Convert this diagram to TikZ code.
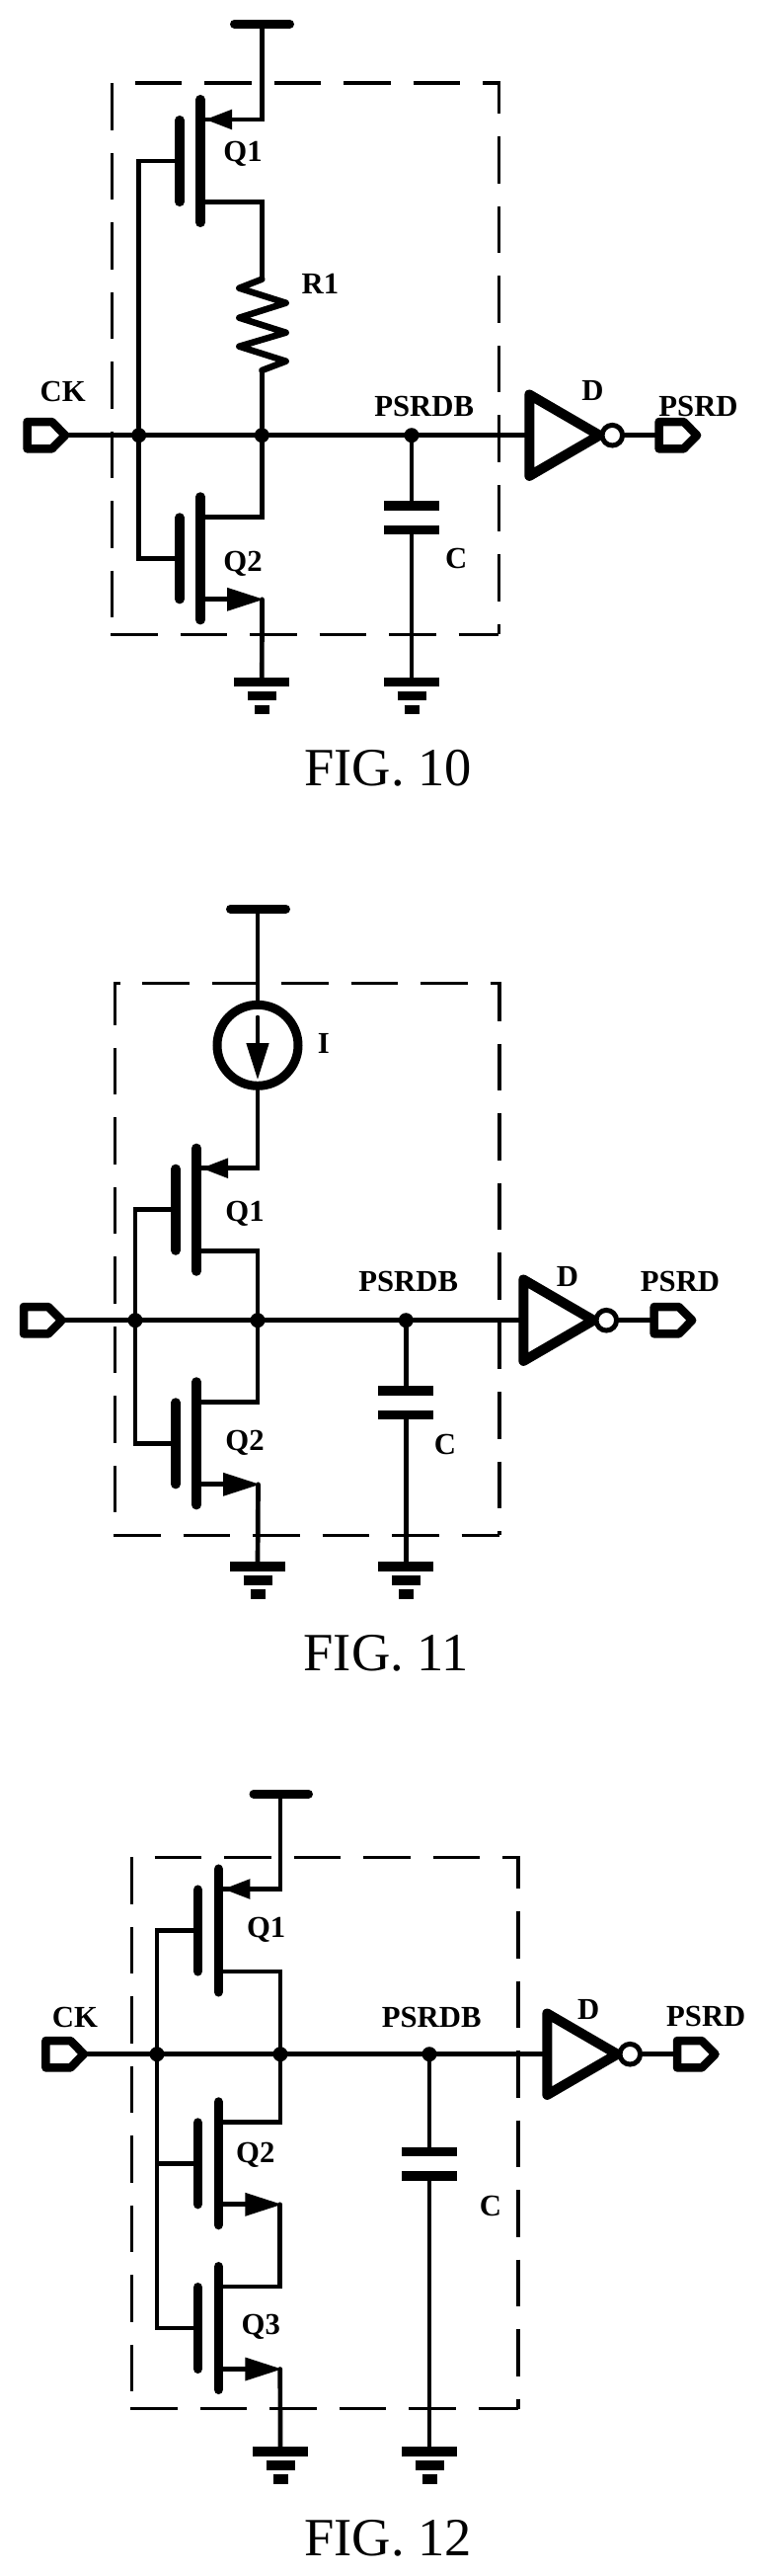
\documentclass[tikz,border=0pt]{standalone}
\usepackage{fontspec}
\setmainfont{Liberation Serif}
\tikzset{
  wire/.style={line width=4.7pt,line cap=round,line join=miter},
  boxdash/.style={line width=3.3pt,dash pattern=on 47.5pt off 23pt},
  rail/.style={line width=9pt,line cap=round},
  heavy/.style={line width=9.5pt,line cap=round},
  plate/.style={line width=9.5pt},
  resz/.style={line width=6.5pt,line join=round,line cap=round},
  invtri/.style={line width=10pt,line join=round,draw=black,fill=white},
  portbox/.style={line width=8.5pt,line join=round,draw=black,fill=white},
  dot/.style={circle,fill=black,inner sep=0pt,minimum size=15pt},
  isrc/.style={circle,draw,line width=9pt,inner sep=0pt,minimum size=82pt},
  lab/.style={inner sep=0pt,anchor=base,font=\fontsize{30.7}{30.7}\selectfont\bfseries},
  figlab/.style={inner sep=0pt,anchor=base,font=\fontsize{54.5}{54.5}\selectfont},
  pics/nmosq/.style={code={
    \draw[heavy] (0,-62.3) -- (0,62.3);
    \draw[heavy] (-21,-41.3) -- (-21,41.3);
    \coordinate (-g) at (-21,0);
    \coordinate (-d) at (0,-42);
    \coordinate (-s) at (0,41.5);
    \coordinate (-srail) at (62.5,41.5);
    \draw[wire] (0,41.5) -- (30,41.5);
    \fill (27,29.5) -- (64,41.5) -- (27,53.5) -- cycle;
  }},
  pics/pmosq/.style={code={
    \draw[heavy] (0,-62.3) -- (0,62.3);
    \draw[heavy] (-21,-41.3) -- (-21,41.3);
    \coordinate (-g) at (-21,0);
    \coordinate (-s) at (0,-42);
    \coordinate (-d) at (0,41.5);
    \fill (5.3,-42) -- (32,-52.3) -- (32,-31.7) -- cycle;
  }},
  pics/gndsym/.style={code={
    \coordinate (-top) at (0,0);
    \draw[plate] (-28,0) -- (28,0);
    \draw[plate] (-14.5,14) -- (14.5,14);
    \draw[plate] (-7.5,28) -- (7.5,28);
  }},
  pics/portsym/.style={code={
    \coordinate (-w) at (0,0);
    \coordinate (-e) at (38.5,0);
    \draw[portbox] (0,-13.7) -- (25,-13.7) -- (38.5,0) -- (25,13.7) -- (0,13.7) -- cycle;
  }},
  pics/invsym/.style={code={
    \coordinate (-in) at (0,0);
    \coordinate (-out) at (97,0);
    \draw[invtri] (0,-41.2) -- (71,0) -- (0,41.2) -- cycle;
    \draw[line width=5pt,fill=white] (84,0) circle (10.3);
  }},
  pics/capsym/.style={code={
    \coordinate (-a) at (0,0);
    \coordinate (-b) at (0,24.5);
    \draw[plate] (-28,0) -- (28,0);
    \draw[plate] (-28,24.5) -- (28,24.5);
  }}
}
\begin{document}
\begin{tikzpicture}[x=1pt,y=-1pt]
\useasboundingbox (0,0) rectangle (775,2608);

% ---------- FIG. 10
\coordinate (a1) at (113.3,84);
\coordinate (a2) at (136.7,84);
\coordinate (a3) at (505.3,84);
\coordinate (a4) at (505.3,642.3);
\coordinate (a5) at (113.3,642.3);
\coordinate (a6) at (112,642.3);
\draw[boxdash] (a1) -- (a5);
\draw[boxdash] (a6) -- (a4);
\draw[boxdash] (a2) -- (a3) -- (a4);

\coordinate (avdd) at (265.3,24.3);
\coordinate (avl) at (237.5,24.3);
\coordinate (avr) at (293.5,24.3);
\draw[rail] (avl) -- (avr);
\pic (aq1) at (203,163) {pmosq};
\pic (aq2) at (203,565.3) {nmosq};
\node[dot] (aj1) at (140.7,440.7) {};
\node[dot] (aj2) at (265.3,440.7) {};
\node[dot] (aj3) at (417,440.7) {};
\coordinate (art) at (265.3,282.7);
\coordinate (arb) at (265.3,375);
\draw[wire] (aq1-s) -| (avdd);
\draw[wire] (aq1-d) -| (art);
\draw[resz] (art) -- ++(-23,9) -- ++(47.4,15) -- ++(-47.4,15) -- ++(47.4,15) -- ++(-47.4,14) -- ++(47.4,15) -- (arb);
\draw[wire] (arb) -- (aj2);
\draw[wire] (aq1-g) -| (aj1);
\draw[wire] (aq2-g) -| (aj1);
\draw[wire] (aq2-d) -| (aj2);
\pic (ag1) at (265.3,690.3) {gndsym};
\pic (ag2) at (417,690.3) {gndsym};
\draw[wire] (aq2-srail) -- (ag1-top);
\pic (ac) at (417,512) {capsym};
\draw[wire] (aj3) -- (ac-a);
\draw[wire] (ac-b) -- (ag2-top);
\pic (api) at (27.6,440.7) {portsym};
\draw[wire] (api-e) -- (aj1);
\draw[wire] (aj1) -- (aj2);
\draw[wire] (aj2) -- (aj3);
\pic (ainv) at (536.3,440.7) {invsym};
\draw[wire] (aj3) -- (ainv-in);
\pic (apo) at (667.6,440.7) {portsym};
\draw[wire] (ainv-out) -- (apo-w);
\node[lab] (aq1l) at (246,163.3) {Q1};
\node[lab] (ar1l) at (324.4,297.3) {R1};
\node[lab] (ackl) at (63.7,406) {CK};
\node[lab] (apbl) at (429.7,421.7) {PSRDB};
\node[lab] (adl) at (600.5,405.7) {D};
\node[lab] (apl) at (707.5,421.7) {PSRD};
\node[lab] (aq2l) at (246,578.3) {Q2};
\node[lab] (acl) at (462.3,575) {C};
\node[figlab] (afig) at (393.3,795) {FIG. 10};

% ---------- FIG. 11
\coordinate (b1) at (122,995.7);
\coordinate (b2) at (144,995.7);
\coordinate (b3) at (506,995.7);
\coordinate (b4) at (506,1554.3);
\coordinate (b5) at (116.7,1554.3);
\coordinate (b6) at (115,1554.3);
\coordinate (b7) at (116.7,995.7);
\draw[boxdash] (b1) -- (b7) -- (b5);
\draw[boxdash] (b6) -- (b4);
\draw[boxdash] (b2) -- (b3) -- (b4);

\coordinate (bvdd) at (261,920.3);
\coordinate (bvl) at (233.5,920.3);
\coordinate (bvr) at (289.5,920.3);
\draw[rail] (bvl) -- (bvr);
\node[isrc] (bi) at (261,1058.3) {};
\coordinate (bis) at (261,1030);
\coordinate (bia) at (261,1058);
\draw[wire] (bvdd) -- (bi);
\draw[wire] (bis) -- (bia);
\fill (249.3,1056) -- (272.7,1056) -- (261,1092.7) -- cycle;
\pic (bq1) at (199,1224.7) {pmosq};
\pic (bq2) at (199,1461.3) {nmosq};
\node[dot] (bj1) at (137,1336.7) {};
\node[dot] (bj2) at (261,1336.7) {};
\node[dot] (bj3) at (411.3,1336.7) {};
\draw[wire] (bq1-s) -| (bi);
\draw[wire] (bq1-d) -| (bj2);
\draw[wire] (bq1-g) -| (bj1);
\draw[wire] (bq2-g) -| (bj1);
\draw[wire] (bq2-d) -| (bj2);
\pic (bg1) at (261,1586) {gndsym};
\pic (bg2) at (411.3,1586) {gndsym};
\draw[wire] (bq2-srail) -- (bg1-top);
\pic (bc) at (411.3,1408) {capsym};
\draw[wire] (bj3) -- (bc-a);
\draw[wire] (bc-b) -- (bg2-top);
\pic (bpi) at (24,1336.7) {portsym};
\draw[wire] (bpi-e) -- (bj1);
\draw[wire] (bj1) -- (bj2);
\draw[wire] (bj2) -- (bj3);
\pic (binv) at (530.3,1336.7) {invsym};
\draw[wire] (bj3) -- (binv-in);
\pic (bpo) at (662.7,1336.7) {portsym};
\draw[wire] (binv-out) -- (bpo-w);
\node[lab] (bil) at (327.8,1066) {I};
\node[lab] (bq1l) at (248,1236) {Q1};
\node[lab] (bpbl) at (413.7,1307.3) {PSRDB};
\node[lab] (bdl) at (575,1302) {D};
\node[lab] (bpl) at (689,1307.3) {PSRD};
\node[lab] (bq2l) at (248,1468.3) {Q2};
\node[lab] (bcl) at (451,1472.5) {C};
\node[figlab] (bfig) at (391.4,1691.7) {FIG. 11};

% ---------- FIG. 12
\coordinate (c1) at (133.3,1880.3);
\coordinate (c2) at (156.7,1880.3);
\coordinate (c3) at (525,1880.3);
\coordinate (c4) at (525,2438.7);
\coordinate (c5) at (133.3,2438.7);
\coordinate (c6) at (132,2438.7);
\draw[boxdash] (c1) -- (c5);
\draw[boxdash] (c6) -- (c4);
\draw[boxdash] (c2) -- (c3) -- (c4);

\coordinate (cvdd) at (284,1816.3);
\coordinate (cvl) at (257,1816.3);
\coordinate (cvr) at (312.5,1816.3);
\draw[rail] (cvl) -- (cvr);
\pic (cq1) at (221.3,1954.5) {pmosq};
\pic (cq2) at (221.3,2190.3) {nmosq};
\pic (cq3) at (221.3,2357) {nmosq};
\node[dot] (cj1) at (159,2079.7) {};
\node[dot] (cj2) at (284,2079.7) {};
\node[dot] (cj3) at (435,2079.7) {};
\draw[wire] (cq1-s) -| (cvdd);
\draw[wire] (cq1-d) -| (cj2);
\draw[wire] (cq1-g) -| (cj1);
\draw[wire] (cq2-g) -| (cj1);
\draw[wire] (cq3-g) -| (cj1);
\draw[wire] (cq2-d) -| (cj2);
\draw[wire] (cq3-d) -| (cq2-srail);
\pic (cg1) at (284,2482) {gndsym};
\pic (cg2) at (435,2482) {gndsym};
\draw[wire] (cq3-srail) -- (cg1-top);
\pic (cc) at (435,2178.3) {capsym};
\draw[wire] (cj3) -- (cc-a);
\draw[wire] (cc-b) -- (cg2-top);
\pic (cpi) at (46.4,2079.7) {portsym};
\draw[wire] (cpi-e) -- (cj1);
\draw[wire] (cj1) -- (cj2);
\draw[wire] (cj2) -- (cj3);
\pic (cinv) at (554.3,2079.7) {invsym};
\draw[wire] (cj3) -- (cinv-in);
\pic (cpo) at (686,2079.7) {portsym};
\draw[wire] (cinv-out) -- (cpo-w);
\node[lab] (cckl) at (76,2052.3) {CK};
\node[lab] (cq1l) at (269.7,1961) {Q1};
\node[lab] (cpbl) at (437.2,2052.3) {PSRDB};
\node[lab] (cdl) at (596.2,2044.3) {D};
\node[lab] (cpl) at (715.3,2051.7) {PSRD};
\node[lab] (cq2l) at (258.8,2189) {Q2};
\node[lab] (cq3l) at (264.3,2363.7) {Q3};
\node[lab] (ccl) at (497,2243.2) {C};
\node[figlab] (cfig) at (393.3,2587) {FIG. 12};
\end{tikzpicture}
\end{document}
